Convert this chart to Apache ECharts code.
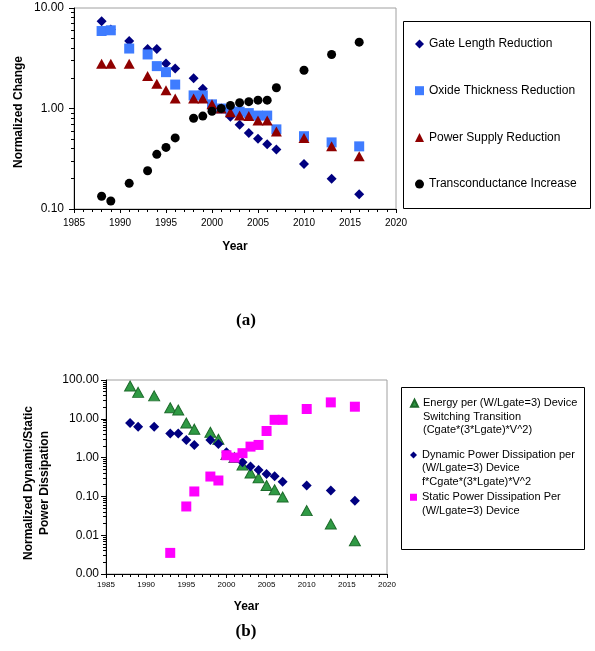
<!DOCTYPE html>
<html>
<head>
<meta charset="utf-8">
<script src="https://cdn.jsdelivr.net/npm/echarts@6/dist/echarts.min.js"></script>
<style>
html, body { margin: 0; padding: 0; background: #fff; }
#main { width: 595px; height: 651px; }
</style>
</head>
<body>
<div id="main"></div>
<script>
// (a) normalized scaling trends
var years = [1988, 1989, 1991, 1993, 1994, 1995, 1996, 1998, 1999, 2000, 2001, 2002, 2003, 2004, 2005, 2006, 2007, 2010, 2013, 2016];
var gateLength = [7.4, 6.1, 4.7, 3.9, 3.9, 2.8, 2.5, 2.0, 1.57, 1.07, 1.0, 0.83, 0.69, 0.57, 0.50, 0.44, 0.39, 0.28, 0.20, 0.14];
var oxideThickness = [5.9, 6.0, 3.95, 3.45, 2.64, 2.3, 1.73, 1.35, 1.35, 1.1, 1.0, 0.94, 0.93, 0.9, 0.85, 0.85, 0.62, 0.53, 0.46, 0.42];
var powerSupply = [2.78, 2.78, 2.78, 2.1, 1.76, 1.52, 1.26, 1.26, 1.26, 1.1, 1.0, 0.92, 0.85, 0.84, 0.76, 0.76, 0.59, 0.51, 0.42, 0.335];
var transconductance = [0.134, 0.12, 0.18, 0.24, 0.35, 0.41, 0.51, 0.80, 0.84, 0.94, 1.0, 1.07, 1.14, 1.17, 1.21, 1.21, 1.61, 2.4, 3.45, 4.57];

// (b) dynamic / static power
var energy = [70, 48, 39, 19.3, 16.8, 7.8, 5.4, 4.5, 2.97, 1.2, 1.0, 0.64, 0.40, 0.30, 0.19, 0.148, 0.096, 0.043, 0.0194, 0.0072];
var dynamicPower = [7.8, 6.2, 6.2, 4.2, 4.2, 2.85, 2.12, 2.85, 2.25, 1.38, 1.0, 0.76, 0.59, 0.48, 0.38, 0.33, 0.237, 0.19, 0.142, 0.077];
var staticYears = [1993, 1995, 1996, 1998, 1999, 2000, 2001, 2002, 2003, 2004, 2005, 2006, 2007, 2010, 2013, 2016];
var staticPower = [0.0035, 0.055, 0.134, 0.325, 0.257, 1.15, 1.0, 1.3, 1.92, 2.12, 4.85, 9.4, 9.4, 17.9, 26.5, 20.5];

var namesA = ['Gate Length Reduction', 'Oxide Thickness Reduction', 'Power Supply Reduction', 'Transconductance Increase'];
var namesB = ['Energy per (W/Lgate=3) Device\nSwitching Transition\n(Cgate*(3*Lgate)*V^2)',
              'Dynamic Power Dissipation per\n(W/Lgate=3) Device\nf*Cgate*(3*Lgate)*V^2',
              'Static Power Dissipation Per\n(W/Lgate=3) Device'];

var FONT = 'Arial, "Liberation Sans", sans-serif';

function pairs(xs, ys) {
    var out = [];
    for (var i = 0; i < ys.length; i++) out.push([xs[i], ys[i]]);
    return out;
}

// log10 of 2..9 inside each decade (minor ticks, drawn on a hidden linear axis)
function logMinors(loExp, hiExp) {
    var out = [];
    for (var e = loExp; e < hiExp; e++) {
        for (var k = 2; k <= 9; k++) out.push(e + Math.log10(k));
    }
    return out;
}

var chart = echarts.init(document.getElementById('main'));

function xAxisOf(grid, fontSize, margin, nameGap) {
    return {
        gridIndex: grid, type: 'value', min: 1985, max: 2020, interval: 5,
        name: 'Year', nameLocation: 'middle', nameGap: nameGap, nameMoveOverlap: false,
        nameTextStyle: { fontFamily: FONT, fontWeight: 'bold', fontSize: 12, color: '#000' },
        axisLine: { onZero: false, lineStyle: { color: '#000', width: 1 } },
        axisTick: { length: 4, lineStyle: { color: '#000' } },
        minorTick: { show: true, splitNumber: 5, length: 3, lineStyle: { color: '#000' } },
        axisLabel: { fontFamily: FONT, fontSize: fontSize, color: '#000', margin: margin,
                     formatter: function (v) { return String(v); } },
        splitLine: { show: false }
    };
}

function yAxisOf(grid, lo, hi, name, nameGap, margin, namePad) {
    return {
        gridIndex: grid, type: 'log', logBase: 10, min: lo, max: hi, position: 'left',
        name: name, nameLocation: 'middle', nameGap: nameGap, nameMoveOverlap: false,
        nameTextStyle: { fontFamily: FONT, fontWeight: 'bold', fontSize: 12, color: '#000', lineHeight: 16,
                         padding: [0, namePad, 0, 0] },
        axisLine: { onZero: false, lineStyle: { color: '#000', width: 1 } },
        axisTick: { length: 5, lineStyle: { color: '#000' } },
        axisLabel: {
            fontFamily: FONT, fontSize: 12, color: '#000', margin: margin,
            formatter: function (v) { return Number(v).toFixed(2); }
        },
        splitLine: { show: false }
    };
}

function minorAxisOf(grid, loExp, hiExp) {
    return {
        gridIndex: grid, type: 'value', min: loExp, max: hiExp, position: 'left',
        axisLine: { show: false, onZero: false },
        axisLabel: { show: false },
        axisTick: { show: true, length: 3, customValues: logMinors(loExp, hiExp), lineStyle: { color: '#000' } },
        splitLine: { show: false }
    };
}

function legendB(idx, top, lineH) {
    var blanks = namesB[idx].split('\n').length - 1;
    return {
        data: [namesB[idx]], orient: 'vertical', left: 410, top: top, padding: 0,
        itemWidth: 7, itemHeight: 7,
        formatter: function (name) { return new Array(blanks + 1).join('\n') + name; },
        textStyle: { fontFamily: FONT, fontSize: 11, color: '#000', lineHeight: lineH }
    };
}

var option = {
    animation: false,
    backgroundColor: '#fff',
    grid: [
        { left: 74, top: 8, width: 322, height: 201, show: true, borderColor: '#a0a0a0', borderWidth: 1 },
        { left: 106, top: 380, width: 281, height: 194, show: true, borderColor: '#a0a0a0', borderWidth: 1 }
    ],
    xAxis: [
        xAxisOf(0, 10, 9, 32),
        xAxisOf(1, 8, 7, 27)
    ],
    yAxis: [
        yAxisOf(0, 0.1, 10, 'Normalized Change', 47, 10, 7),
        minorAxisOf(0, -1, 1),
        yAxisOf(1, 0.001, 100, 'Normalized Dynamic/Static\nPower Dissipation', 53, 7, 12),
        minorAxisOf(1, -3, 2)
    ],
    legend: [
        {
            data: namesA, orient: 'vertical', left: 415, top: 37, padding: 0,
            itemWidth: 9, itemHeight: 9, itemGap: 32.7,
            textStyle: { fontFamily: FONT, fontSize: 12, color: '#000', lineHeight: 14 }
        },
        legendB(0, 369.5, 13.5),
        legendB(1, 421.7, 13.3),
        legendB(2, 477.3, 13.3)
    ],
    graphic: [
        { type: 'rect', shape: { x: 403.5, y: 21.5, width: 187, height: 187 },
          style: { fill: 'none', stroke: '#000', lineWidth: 1 } },
        { type: 'rect', shape: { x: 401.5, y: 387.5, width: 183, height: 162 },
          style: { fill: 'none', stroke: '#000', lineWidth: 1 } },
        { type: 'text', x: 246, y: 321,
          style: { text: '(a)', font: 'bold 17px "Times New Roman", "Liberation Serif", serif', fill: '#000',
                   textAlign: 'center', textVerticalAlign: 'middle' } },
        { type: 'text', x: 246, y: 632,
          style: { text: '(b)', font: 'bold 17px "Times New Roman", "Liberation Serif", serif', fill: '#000',
                   textAlign: 'center', textVerticalAlign: 'middle' } }
    ],
    series: [
        { name: namesA[0], type: 'scatter', xAxisIndex: 0, yAxisIndex: 0, symbol: 'diamond', symbolSize: 10,
          itemStyle: { color: '#000080', opacity: 1 }, data: pairs(years, gateLength) },
        { name: namesA[1], type: 'scatter', xAxisIndex: 0, yAxisIndex: 0, symbol: 'rect', symbolSize: 10,
          itemStyle: { color: '#3f7cff', opacity: 1 }, data: pairs(years, oxideThickness) },
        { name: namesA[2], type: 'scatter', xAxisIndex: 0, yAxisIndex: 0, symbol: 'triangle', symbolSize: [11, 10],
          itemStyle: { color: '#8f0000', opacity: 1 }, data: pairs(years, powerSupply) },
        { name: namesA[3], type: 'scatter', xAxisIndex: 0, yAxisIndex: 0, symbol: 'circle', symbolSize: 9,
          itemStyle: { color: '#000000', opacity: 1 }, data: pairs(years, transconductance) },

        { name: namesB[0], type: 'scatter', xAxisIndex: 1, yAxisIndex: 2, symbol: 'triangle', symbolSize: [11, 10],
          itemStyle: { color: '#2f9a44', borderColor: '#1d6a2b', borderWidth: 1, opacity: 1 }, data: pairs(years, energy) },
        { name: namesB[1], type: 'scatter', xAxisIndex: 1, yAxisIndex: 2, symbol: 'diamond', symbolSize: 10,
          itemStyle: { color: '#000080', opacity: 1 }, data: pairs(years, dynamicPower) },
        { name: namesB[2], type: 'scatter', xAxisIndex: 1, yAxisIndex: 2, symbol: 'rect', symbolSize: 10,
          itemStyle: { color: '#ff00ff', opacity: 1 }, data: pairs(staticYears, staticPower) }
    ]
};

chart.setOption(option);
</script>
</body>
</html>
